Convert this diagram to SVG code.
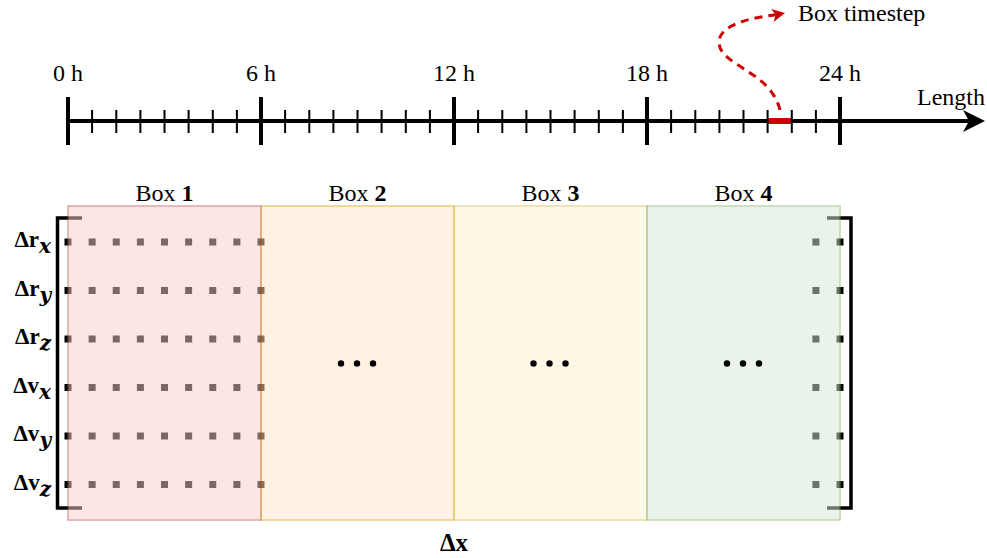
<svg xmlns="http://www.w3.org/2000/svg" width="987" height="558" viewBox="0 0 987 558">
<style>
text { font-family: "Liberation Serif", "Times New Roman", serif; fill: #000; }
.lbl { font-size: 24px; }
.row { font-size: 23px; }
.row .m { font-weight: bold; }
.row .s { font-style: italic; font-weight: bold; font-size: 20px; font-family: "DejaVu Serif", "Liberation Serif", serif; }
.dots { stroke: #000; stroke-width: 7; stroke-dasharray: 7 17.125; fill: none; }
.box { opacity: 0.5; stroke-width: 1.5; }
.brk { fill: none; stroke: #000; stroke-width: 3.5; }
</style>
<defs>
  <g id="ell"><circle cx="-16" cy="0" r="3.2"/><circle cx="0" cy="0" r="3.2"/><circle cx="16" cy="0" r="3.2"/></g>
</defs>

<!-- timeline -->
<g id="timeline">
  <line x1="66" y1="121" x2="970" y2="121" stroke="#000" stroke-width="4"/>
  <polygon points="985,121 963,110 969,121 963,132" fill="#000"/>
  <line x1="767.6" y1="121" x2="791.8" y2="121" stroke="#cc0000" stroke-width="6"/>
  <path d="M68,97V145 M261,97V145 M454,97V145 M647,97V145 M840,97V145" stroke="#000" stroke-width="4"/>
  <path d="M92.1,110V133 M116.3,110V133 M140.4,110V133 M164.5,110V133 M188.6,110V133 M212.8,110V133 M236.9,110V133 M285.1,110V133 M309.3,110V133 M333.4,110V133 M357.5,110V133 M381.6,110V133 M405.8,110V133 M429.9,110V133 M478.1,110V133 M502.3,110V133 M526.4,110V133 M550.5,110V133 M574.6,110V133 M598.8,110V133 M622.9,110V133 M671.1,110V133 M695.3,110V133 M719.4,110V133 M743.5,110V133 M767.6,110V133 M791.8,110V133 M815.9,110V133" stroke="#000" stroke-width="2"/>
  <text class="lbl" x="68" y="81" text-anchor="middle">0 h</text>
  <text class="lbl" x="261" y="81" text-anchor="middle">6 h</text>
  <text class="lbl" x="454" y="81" text-anchor="middle">12 h</text>
  <text class="lbl" x="647" y="81" text-anchor="middle">18 h</text>
  <text class="lbl" x="840" y="81" text-anchor="middle">24 h</text>
  <text class="lbl" x="985" y="105" text-anchor="end">Length</text>
</g>

<g id="connectors">
  <path d="M780,110 C770,70 719,66 719,42 C719,24 755,17 776,14.8" fill="none" stroke="#cc0000" stroke-width="3" stroke-dasharray="8 6"/>
  <polygon points="785,13 771.1,9.1 775.7,14.8 773.5,21.9" fill="#cc0000"/>
</g>
<g id="box-timestep-label">
  <text class="lbl" x="798" y="21">Box timestep</text>
</g>

<!-- state vector rows (drawn beneath translucent boxes) -->
<g id="vector">
  <path class="brk" d="M82,218H57.5V508H82"/>
  <path class="brk" d="M827,218H851V508H827"/>
  <g>
    <line class="dots" x1="64.5" y1="242" x2="264.5" y2="242"/>
    <line class="dots" x1="64.5" y1="290.5" x2="264.5" y2="290.5"/>
    <line class="dots" x1="64.5" y1="339" x2="264.5" y2="339"/>
    <line class="dots" x1="64.5" y1="387.5" x2="264.5" y2="387.5"/>
    <line class="dots" x1="64.5" y1="436" x2="264.5" y2="436"/>
    <line class="dots" x1="64.5" y1="484.5" x2="264.5" y2="484.5"/>
    <line class="dots" x1="812.4" y1="242" x2="843.5" y2="242"/>
    <line class="dots" x1="812.4" y1="290.5" x2="843.5" y2="290.5"/>
    <line class="dots" x1="812.4" y1="339" x2="843.5" y2="339"/>
    <line class="dots" x1="812.4" y1="387.5" x2="843.5" y2="387.5"/>
    <line class="dots" x1="812.4" y1="436" x2="843.5" y2="436"/>
    <line class="dots" x1="812.4" y1="484.5" x2="843.5" y2="484.5"/>
  </g>
  <text class="row" x="51" y="247" text-anchor="end"><tspan class="m">Δr</tspan><tspan class="s" dy="6">x</tspan></text>
  <text class="row" x="51" y="295.5" text-anchor="end"><tspan class="m">Δr</tspan><tspan class="s" dy="6">y</tspan></text>
  <text class="row" x="51" y="344" text-anchor="end"><tspan class="m">Δr</tspan><tspan class="s" dy="6">z</tspan></text>
  <text class="row" x="51" y="392.5" text-anchor="end"><tspan class="m">Δv</tspan><tspan class="s" dy="6">x</tspan></text>
  <text class="row" x="51" y="441" text-anchor="end"><tspan class="m">Δv</tspan><tspan class="s" dy="6">y</tspan></text>
  <text class="row" x="51" y="489.5" text-anchor="end"><tspan class="m">Δv</tspan><tspan class="s" dy="6">z</tspan></text>
</g>

<g id="box1">
  <rect class="box" x="68" y="206" width="193" height="314" fill="#f8cecc" stroke="#b85450"/>
  <text class="lbl" x="164.5" y="201" text-anchor="middle">Box <tspan font-weight="bold">1</tspan></text>
</g>
<g id="box2">
  <rect class="box" x="261" y="206" width="193" height="314" fill="#ffe6cc" stroke="#d79b00"/>
  <text class="lbl" x="357.5" y="201" text-anchor="middle">Box <tspan font-weight="bold">2</tspan></text>
  <use href="#ell" x="357" y="363.5"/>
</g>
<g id="box3">
  <rect class="box" x="454" y="206" width="193" height="314" fill="#fff2cc" stroke="#d6b656"/>
  <text class="lbl" x="550.5" y="201" text-anchor="middle">Box <tspan font-weight="bold">3</tspan></text>
  <use href="#ell" x="549.5" y="363.5"/>
</g>
<g id="box4">
  <rect class="box" x="647" y="206" width="193" height="314" fill="#d5e8d4" stroke="#82b366"/>
  <text class="lbl" x="743.5" y="201" text-anchor="middle">Box <tspan font-weight="bold">4</tspan></text>
  <use href="#ell" x="743" y="363.5"/>
</g>

<g id="dx-label">
  <text x="454" y="551" text-anchor="middle" font-size="25" font-weight="bold">Δx</text>
</g>
</svg>
